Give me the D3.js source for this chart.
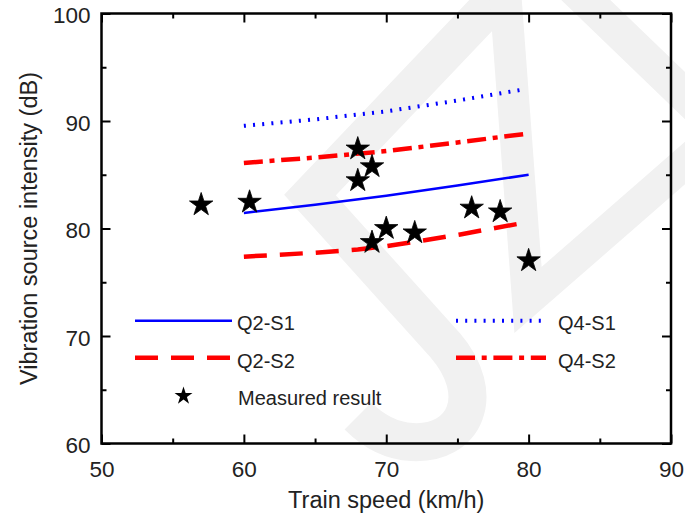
<!DOCTYPE html>
<html>
<head>
<meta charset="utf-8">
<script src="https://cdn.jsdelivr.net/npm/d3@7"></script>
<style>
    body { margin: 0; background: #fff; }
    text { font-family: "Liberation Sans", Arial, sans-serif; fill: #222; }
</style>
</head>
<body>
<div id="chart"></div>
<script>
// Values.
var speedQ2S1 = [60, 65, 70, 75, 80];
var valueQ2S1 = [81.45, 82.2, 83.05, 84.0, 85.0];
var speedQ2S2 = [60, 65, 68, 70, 72.7, 75.2, 79.2];
var valueQ2S2 = [77.38, 77.75, 78.05, 78.35, 78.9, 79.45, 80.42];
var speedQ4S1 = [60, 65, 70, 75, 79.7];
var valueQ4S1 = [89.55, 90.15, 90.9, 91.9, 92.95];
var speedQ4S2 = [60, 65, 70, 75, 79.75];
var valueQ4S2 = [86.1, 86.6, 87.2, 88.0, 88.8];
var measuredSpeed = [57, 60.4, 68, 69, 68, 69, 70, 72, 76, 78, 80];
var measuredValue = [82.3, 82.55, 87.5, 85.85, 84.55, 78.8, 80.1, 79.7, 82.0, 81.65, 77.1];
var xTicks = [50, 60, 70, 80, 90];
var xMinorTicks = [55, 65, 75, 85];
var yTicks = [60, 70, 80, 90, 100];
var yMinorTicks = [65, 75, 85, 95];

var width = 685,
    height = 513,
    plot = {x: 101.5, y: 13.5, width: 569.5, height: 430};

function zip(xs, ys) {
    return xs.map(function (d, i) { return {x: d, y: ys[i]}; });
}

// Line styles per series.
var series = [
    {name: 'Q2-S1', data: zip(speedQ2S1, valueQ2S1), color: '#0000ff', width: 2.5, dash: null},
    {name: 'Q2-S2', data: zip(speedQ2S2, valueQ2S2), color: '#ff0000', width: 4.5, dash: '23,13'},
    {name: 'Q4-S1', data: zip(speedQ4S1, valueQ4S1), color: '#0000ff', width: 4, dash: '2,7.2'},
    {name: 'Q4-S2', data: zip(speedQ4S2, valueQ4S2), color: '#ff0000', width: 4.5, dash: '19,6.7,5,6.7'}
];

var svg = d3.select('#chart').append('svg')
    .attr('width', width)
    .attr('height', height);

var x = d3.scaleLinear().domain([50, 90]).range([plot.x, plot.x + plot.width]);
var y = d3.scaleLinear().domain([60, 100]).range([plot.y + plot.height, plot.y]);

// 1 Faint background watermark.
var wm = svg.append('g')
    .attr('fill', 'none')
    .attr('stroke', '#f1f1f1')
    .attr('stroke-linejoin', 'miter');
wm.append('path').attr('stroke-width', 38)
    .attr('d', 'M505,-10 L310,195 L445,345 C488,395 465,445 412,442 C390,441 372,430 358,416');
wm.append('path').attr('stroke-width', 32)
    .attr('d', 'M505,-10 L528,300 L700,150');
wm.append('path').attr('stroke-width', 34)
    .attr('d', 'M565,-20 L700,110');

// 2 Series lines.
var line = d3.line()
    .x(function (d) { return x(d.x); })
    .y(function (d) { return y(d.y); });

svg.append('g').selectAll('path')
    .data(series).enter().append('path')
    .attr('fill', 'none')
    .attr('stroke', function (d) { return d.color; })
    .attr('stroke-width', function (d) { return d.width; })
    .attr('stroke-dasharray', function (d) { return d.dash; })
    .attr('d', function (d) { return line(d.data); });

// 3 Measured points.
var star = d3.symbol(d3.symbolStar, 170);
svg.append('g').selectAll('path')
    .data(zip(measuredSpeed, measuredValue)).enter().append('path')
    .attr('fill', '#000')
    .attr('stroke', '#000')
    .attr('stroke-width', 0.8)
    .attr('transform', function (d) { return 'translate(' + x(d.x) + ',' + (y(d.y) + 1) + ')'; })
    .attr('d', star);

// 4 Box and inward ticks on all four sides.
function styleAxis(g) {
    g.select('.domain').remove();
    g.selectAll('line').attr('stroke', '#000').attr('stroke-width', 2);
    g.selectAll('text')
        .style('font-family', '"Liberation Sans", Arial, sans-serif')
        .style('font-size', '22.5px')
        .attr('fill', '#222');
}
var none = function () { return ''; };

svg.append('g').attr('transform', 'translate(0,' + (plot.y + plot.height) + ')')
    .call(d3.axisBottom(x).tickValues(xTicks).tickSizeInner(-9).tickSizeOuter(0).tickPadding(18))
    .call(styleAxis);
svg.append('g').attr('transform', 'translate(0,' + (plot.y + plot.height) + ')')
    .call(d3.axisBottom(x).tickValues(xMinorTicks).tickSizeInner(-5).tickSizeOuter(0).tickFormat(none))
    .call(styleAxis);
svg.append('g').attr('transform', 'translate(0,' + plot.y + ')')
    .call(d3.axisTop(x).tickValues(xTicks).tickSizeInner(-9).tickSizeOuter(0).tickFormat(none))
    .call(styleAxis);
svg.append('g').attr('transform', 'translate(0,' + plot.y + ')')
    .call(d3.axisTop(x).tickValues(xMinorTicks).tickSizeInner(-5).tickSizeOuter(0).tickFormat(none))
    .call(styleAxis);
svg.append('g').attr('transform', 'translate(' + plot.x + ',0)')
    .call(d3.axisLeft(y).tickValues(yTicks).tickSizeInner(-9).tickSizeOuter(0).tickPadding(11))
    .call(styleAxis)
    .selectAll('text').attr('dy', '0.42em');
svg.append('g').attr('transform', 'translate(' + plot.x + ',0)')
    .call(d3.axisLeft(y).tickValues(yMinorTicks).tickSizeInner(-5).tickSizeOuter(0).tickFormat(none))
    .call(styleAxis);
svg.append('g').attr('transform', 'translate(' + (plot.x + plot.width) + ',0)')
    .call(d3.axisRight(y).tickValues(yTicks).tickSizeInner(-9).tickSizeOuter(0).tickFormat(none))
    .call(styleAxis);
svg.append('g').attr('transform', 'translate(' + (plot.x + plot.width) + ',0)')
    .call(d3.axisRight(y).tickValues(yMinorTicks).tickSizeInner(-5).tickSizeOuter(0).tickFormat(none))
    .call(styleAxis);

svg.append('rect')
    .attr('x', plot.x).attr('y', plot.y)
    .attr('width', plot.width).attr('height', plot.height)
    .attr('fill', 'none')
    .attr('stroke', '#000')
    .attr('stroke-width', 2.5);

// 5 Axis titles.
svg.append('text')
    .attr('x', plot.x + plot.width / 2)
    .attr('y', 508)
    .attr('text-anchor', 'middle')
    .style('font-size', '23.5px')
    .text('Train speed (km/h)');
svg.append('text')
    .attr('transform', 'translate(37,' + (plot.y + plot.height / 2) + ') rotate(-90)')
    .attr('text-anchor', 'middle')
    .style('font-size', '23.5px')
    .text('Vibration source intensity (dB)');

// 6 Legend, two columns of lines and one star row.
var legendPos = [
    {x1: 135, x2: 232, y: 320.7, tx: 237, ty: 330},
    {x1: 135, x2: 232, y: 357.7, tx: 237, ty: 368},
    {x1: 456, x2: 548, y: 320.7, tx: 558, ty: 330},
    {x1: 456, x2: 546, y: 357.7, tx: 558, ty: 368}
];
var legend = svg.append('g');
series.forEach(function (s, i) {
    var p = legendPos[i];
    legend.append('line')
        .attr('x1', p.x1).attr('x2', p.x2)
        .attr('y1', p.y).attr('y2', p.y)
        .attr('stroke', s.color)
        .attr('stroke-width', s.width)
        .attr('stroke-dasharray', s.dash);
    legend.append('text')
        .attr('x', p.tx).attr('y', p.ty)
        .style('font-size', '20px')
        .text(s.name);
});
legend.append('path')
    .attr('transform', 'translate(183.5,396)')
    .attr('fill', '#000')
    .attr('d', d3.symbol(d3.symbolStar, 100));
legend.append('text')
    .attr('x', 238).attr('y', 405)
    .style('font-size', '20px')
    .text('Measured result');
</script>
</body>
</html>
